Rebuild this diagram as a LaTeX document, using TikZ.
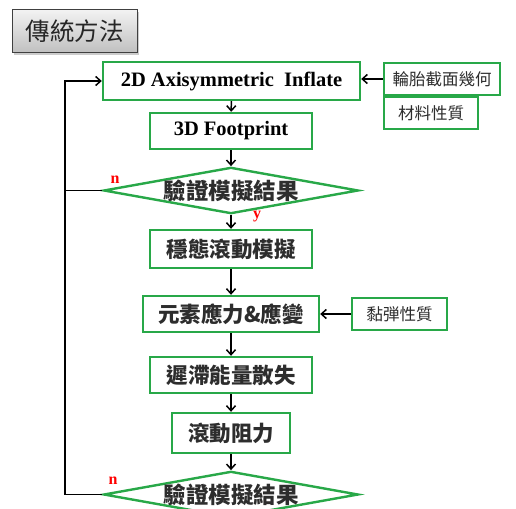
\documentclass[tikz,border=0pt]{standalone}
\usepackage{fontspec}
\setmainfont{Liberation Serif}
\newfontfamily\cjk{Noto Sans CJK TC}
\usetikzlibrary{shapes.geometric,arrows.meta,shadows}
\definecolor{bxgreen}{RGB}{40,168,72}
\definecolor{txtgray}{RGB}{45,45,45}
\tikzset{
  x=1pt,y=-1pt,
  flowbox/.style={draw=bxgreen,line width=2.4pt,fill=white,inner sep=0pt,text=txtgray},
  sidebox/.style={draw=bxgreen,line width=2pt,fill=white,inner sep=0pt,text=txtgray,font=\cjk\fontsize{16.5}{18}\selectfont},
  cjkbold/.style={font=\cjk\bfseries\fontsize{21.5}{23}\selectfont},
  latbold/.style={font=\bfseries\fontsize{20.5}{22}\selectfont,text=black},
  decide/.style={diamond,draw=bxgreen,line width=2.4pt,fill=white,inner sep=0pt,aspect=5.5,minimum width=246pt,minimum height=45pt,text=txtgray,font=\cjk\bfseries\fontsize{22.5}{24}\selectfont},
  arr/.style={line width=1.5pt,-{Straight Barb[length=5pt,width=9pt,line width=1.5pt]}},
  plain/.style={line width=1.5pt},
  redlbl/.style={text=red,font=\bfseries\fontsize{16}{18}\selectfont,inner sep=0pt}
}
\begin{document}
\begin{tikzpicture}
\useasboundingbox (0,0) rectangle (516,508);
\clip (0,0) rectangle (516,508);
% title
\node[draw=black!75,line width=1pt,top color=gray!10,bottom color=gray!50,drop shadow={shadow xshift=2pt,shadow yshift=-2pt,opacity=0.4},minimum width=125pt,minimum height=43pt,inner sep=0pt,font=\cjk\fontsize{24.5}{26}\selectfont,text=black!85] (title) at (74.5,31.5) {傳統方法};
% main flow
\node[flowbox,latbold,minimum width=257pt,minimum height=38pt] (A) at (231.5,81) {2D Axisymmetric\ \ Inflate};
\node[flowbox,latbold,minimum width=162pt,minimum height=36pt] (B) at (231,131) {3D Footprint};
\node[decide] (D1) at (231,190.5) {驗證模擬結果};
\node[flowbox,cjkbold,minimum width=162pt,minimum height=38pt] (C) at (231,249) {穩態滾動模擬};
\node[flowbox,cjkbold,minimum width=176pt,minimum height=36pt] (D) at (231,314) {元素應力\&應變};
\node[flowbox,cjkbold,minimum width=162pt,minimum height=36pt] (E) at (231,375) {遲滯能量散失};
\node[flowbox,cjkbold,minimum width=118pt,minimum height=40pt] (F) at (231,433) {滾動阻力};
\node[decide] (D2) at (231,494.5) {驗證模擬結果};
% side boxes
\node[sidebox,minimum width=116pt,minimum height=32pt] (S1) at (442,79) {輪胎截面幾何};
\node[sidebox,minimum width=94pt,minimum height=32pt,anchor=north west] (S2) at (S1.south west) {材料性質};
\node[sidebox,minimum width=95pt,minimum height=32pt] (S3) at (399.5,314) {黏弾性質};
% arrows
\draw[arr] (A) -- (B);
\draw[arr] (B) -- (D1);
\draw[arr] (D1) -- (C);
\draw[arr] (C) -- (D);
\draw[arr] (D) -- (E);
\draw[arr] (E) -- (F);
\draw[arr] (F) -- (D2);
\draw[arr] (S1.west) -- (A.east |- S1.west);
\draw[arr] (S3) -- (D);
% loop
\coordinate (Ltop) at (65,81);
\coordinate (Lbot) at (65,494.5);
\draw[plain] (D1.west) -- (D1.west -| Ltop);
\draw[arr] (D2.west) -- (Lbot) -- (Ltop) -- (A.west);
% labels
\node[redlbl] (n1) at (115,180) {n};
\node[redlbl] (y1) at (257,217) {y};
\node[redlbl] (n2) at (113,481) {n};
\end{tikzpicture}
\end{document}
